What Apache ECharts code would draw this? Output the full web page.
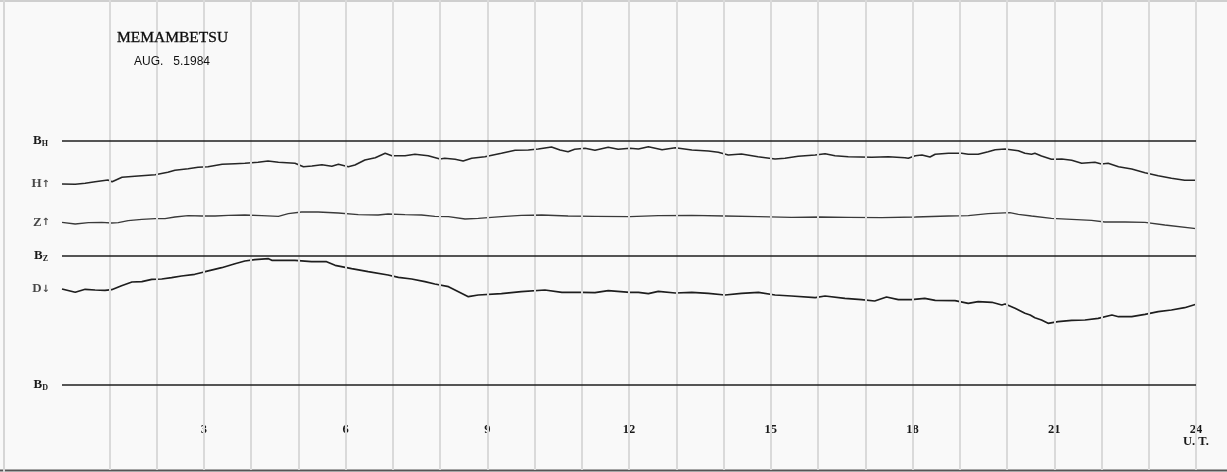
<!DOCTYPE html>
<html>
<head>
<meta charset="utf-8">
<script src="https://cdn.jsdelivr.net/npm/echarts@6/dist/echarts.min.js"></script>
<style>
html,body{margin:0;padding:0;background:#f9f9f9;}
#c{width:1227px;height:472px;}
</style>
</head>
<body>
<div id="c"></div>
<script>
// Hours (UT) at which vertical hour lines are drawn
var hourLines = [1,2,3,4,5,6,7,8,9,10,11,12,13,14,15,16,17,18,19,20,21,22,23,24];
// Hour tick labels
var tickLabels = {3:'3',6:'6',9:'9',12:'12',15:'15',18:'18',21:'21',24:'24\nU. T.'};
// Baseline levels (chart units) and names
var baselineNames = ['H','Z','D'];
var baselineValues = [329, 214, 85];
// Traces: [hour UT, level in chart units]
var hTrace = [[0,286],[0.28,285.7],[0.49,286.7],[0.7,288.3],[0.97,290],[1.06,288.3],[1.27,292.7],[1.61,294],[1.97,295.3],[2.24,297.7],[2.39,299.7],[2.67,301.3],[2.88,302.7],[3.09,303.3],[3.39,305.7],[3.66,306.3],[3.87,306.7],[4.15,307.7],[4.36,309],[4.58,307.7],[4.93,306.7],[5.11,303.3],[5.29,304],[5.5,305.3],[5.71,303.7],[5.85,305.7],[6.06,303.3],[6.2,305],[6.41,310],[6.63,312.3],[6.84,316.7],[6.98,314.3],[7.26,314.3],[7.47,315.7],[7.75,314.3],[8.0,311],[8.1,311.7],[8.32,310.7],[8.49,309],[8.67,311.7],[8.95,313.3],[9.3,316.7],[9.59,319.7],[9.87,320],[10.08,321],[10.36,323],[10.54,320],[10.71,318.3],[10.85,320.7],[11.07,321.7],[11.28,319.7],[11.56,322.7],[11.77,320.7],[12.02,321.7],[12.2,321],[12.41,323.3],[12.7,320.3],[12.98,322.3],[13.33,320],[13.68,319],[13.89,317.7],[14.1,315],[14.38,316],[14.73,313.3],[15.09,311],[15.3,311.7],[15.58,313.7],[15.94,315],[16.15,316.3],[16.36,314.3],[16.64,313.3],[17.14,312.7],[17.49,313.3],[17.84,312.3],[17.91,311.7],[18.06,314.3],[18.2,315],[18.37,313],[18.48,315.7],[18.76,316.7],[19.04,316.7],[19.18,315.7],[19.39,315.7],[19.6,318.3],[19.75,320.3],[19.96,321],[20.24,319.3],[20.38,316.7],[20.52,315.7],[20.59,316.7],[20.73,314],[20.94,310.7],[21.16,311],[21.37,309.7],[21.58,306.7],[21.86,307.7],[22.0,306],[22.14,306.7],[22.36,303.3],[22.64,301],[22.92,297.3],[23.2,294.3],[23.48,291.7],[23.76,289.7],[24,289.7]];
var zTrace = [[0,247.7],[0.28,246],[0.56,247.3],[0.84,247.7],[1.05,247],[1.19,247.3],[1.4,249.3],[1.69,250.7],[1.97,251.3],[2.18,251.3],[2.39,253],[2.67,254.3],[2.96,254],[3.24,254],[3.52,254.7],[3.87,255],[4.23,254.3],[4.58,253.7],[4.79,256.3],[5.07,258],[5.42,258],[5.85,257],[6.27,255.3],[6.69,255],[6.9,256],[7.26,255.3],[7.61,255],[7.89,253.7],[8.18,253.3],[8.53,251],[8.81,251.7],[9.3,253.3],[9.72,254.7],[10.15,255],[10.71,254],[11.28,253.7],[12.02,253.3],[12.62,254.3],[13.33,254.7],[14.03,254],[14.74,253.3],[15.44,252.7],[16.04,253],[16.64,252.7],[17.35,252.3],[18.06,253],[18.76,254],[19.18,254.3],[19.6,256.3],[20.06,257.3],[20.24,255.7],[20.52,254],[20.94,251.7],[21.37,250.7],[21.79,249.7],[22.07,248],[22.5,248],[22.92,247.7],[23.34,245],[24,241.3]];
var dTrace = [[0,181],[0.28,177.7],[0.49,180.7],[0.7,180],[0.91,179.7],[1.05,180.3],[1.26,184.3],[1.48,188],[1.69,188.3],[1.9,190.7],[2.11,191],[2.32,192.3],[2.53,194],[2.81,195.7],[3.03,198.3],[3.38,202.3],[3.66,206.3],[3.87,209],[4.08,210.3],[4.37,211.3],[4.44,209.7],[4.93,209.7],[5.28,208.3],[5.6,208.3],[5.78,204.7],[6.13,201.3],[6.48,198.3],[6.9,195],[7.12,192.7],[7.4,191],[7.68,188.3],[7.89,186],[8.18,183.3],[8.39,178.3],[8.6,173.3],[8.81,175],[9.3,176.3],[9.72,178.3],[10.22,180],[10.58,177.7],[11.0,177.7],[11.28,177.3],[11.56,179.3],[12.02,177.7],[12.2,177.7],[12.41,176.3],[12.62,178.7],[12.98,177],[13.33,177.7],[13.68,176.7],[14.03,175],[14.38,176.7],[14.74,177.7],[15.09,175],[15.44,174],[15.94,172.3],[16.15,174],[16.57,171.7],[16.92,170.3],[17.2,169],[17.45,173],[17.7,170.3],[17.98,170.3],[18.26,171.7],[18.48,169.7],[18.9,169.3],[19.18,166.7],[19.39,168.3],[19.68,167.7],[19.89,165],[19.96,166],[20.17,161.7],[20.38,156.7],[20.49,155],[20.59,152.3],[20.73,150],[20.87,146.7],[21.08,148.3],[21.37,149.7],[21.65,150],[21.93,151.7],[22.22,155],[22.36,153.3],[22.64,153.3],[22.92,155.7],[23.2,158.3],[23.48,160],[23.76,162.3],[24,165.7]];
var traceLetters = ['H','Z','D'];
var traceArrows = ['\u2191','\u2191','\u2193'];

var chart = echarts.init(document.getElementById('c'), null, {renderer:'canvas'});
var serif = "'Liberation Serif','DejaVu Serif',serif";
var labelRich = {
  b:{fontFamily:serif,fontWeight:'bold',fontSize:13,color:'#1a1a1a',lineHeight:14},
  s:{fontFamily:serif,fontWeight:'bold',fontSize:8,color:'#1a1a1a',lineHeight:14,verticalAlign:'bottom',padding:[4,0,0,0]}
};
var traceRich = {
  l:{fontFamily:serif,fontWeight:'bold',fontSize:13,color:'#1a1a1a',lineHeight:14},
  a:{fontFamily:"'DejaVu Sans',sans-serif",fontWeight:'bold',fontSize:10,color:'#1a1a1a',lineHeight:14}
};
var traceLabelData = [hTrace, zTrace, dTrace].map(function(t, i){
  return {value:[t[0][0], t[0][1]], name: '{l|'+traceLetters[i]+'}{a|'+traceArrows[i]+'}'};
});

chart.setOption({
  backgroundColor:'#f9f9f9',
  animation:false,
  title:[
    {text:'MEMAMBETSU', left:112, top:25, textStyle:{fontFamily:serif,fontSize:15.5,fontWeight:'normal',color:'#0d0d0d',textBorderColor:'#0d0d0d',textBorderWidth:0.3}},
    {text:'AUG.   5.1984', left:129, top:51, textStyle:{fontFamily:"'Liberation Sans Narrow','Liberation Sans',sans-serif",fontSize:12,fontWeight:'normal',color:'#111'}}
  ],
  grid:{left:62,right:31,top:0,bottom:2},
  xAxis:{type:'value',min:0,max:24,interval:1,
    axisLine:{show:false},axisTick:{show:false},splitLine:{show:false},
    axisLabel:{inside:true,margin:46,verticalAlign:'top',showMinLabel:false,showMaxLabel:true,
      fontFamily:serif,fontWeight:'bold',fontSize:12.5,lineHeight:12,color:'#1a1a1a',
      formatter:function(v){return tickLabels[v] || '';}}
  },
  yAxis:{type:'value',min:0,max:470,show:false,splitLine:{show:false}},
  graphic:[
    {type:'line',shape:{x1:0,y1:470.5,x2:1227,y2:470.5},style:{stroke:'#555',lineWidth:2},z:0},
    {type:'line',shape:{x1:0,y1:1,x2:1227,y2:1},style:{stroke:'#cfcfcf',lineWidth:2},z:0},
    {type:'line',shape:{x1:4,y1:0,x2:4,y2:472},style:{stroke:'#d6d6d6',lineWidth:2},z:0}
  ],
  series:[
    {type:'line',name:'hours',data:[[0,-20]],showSymbol:false,silent:true,z:1,lineStyle:{width:0},
      markLine:{silent:true,symbol:'none',label:{show:false},
        lineStyle:{color:'#dadada',width:2,type:'solid'},
        data:hourLines.map(function(h){return {xAxis:h};})}},
    {type:'line',name:'baselines',data:[[0,-20]],showSymbol:false,silent:true,z:2,lineStyle:{width:0},
      markLine:{silent:true,symbol:'none',
        lineStyle:{color:'#1e1e1e',width:1.5,type:'solid'},
        label:{show:true,position:'start',distance:14,rich:labelRich,
          formatter:function(p){return '{b|B}{s|'+p.name+'}';}},
        data:baselineValues.map(function(v,i){return {yAxis:v,name:baselineNames[i]};})}},
    {type:'line',name:'H',data:hTrace,showSymbol:false,z:3,lineStyle:{color:'#262626',width:1.6}},
    {type:'line',name:'Z',data:zTrace,showSymbol:false,z:3,lineStyle:{color:'#3a3a3a',width:1.3}},
    {type:'line',name:'D',data:dTrace,showSymbol:false,z:3,lineStyle:{color:'#1e1e1e',width:1.7}},
    {type:'scatter',name:'labels',data:traceLabelData,symbolSize:0,silent:true,z:4,
      label:{show:true,position:'left',distance:12,rich:traceRich,
        formatter:function(p){return p.name;}}}
  ]
});
</script>
</body>
</html>
